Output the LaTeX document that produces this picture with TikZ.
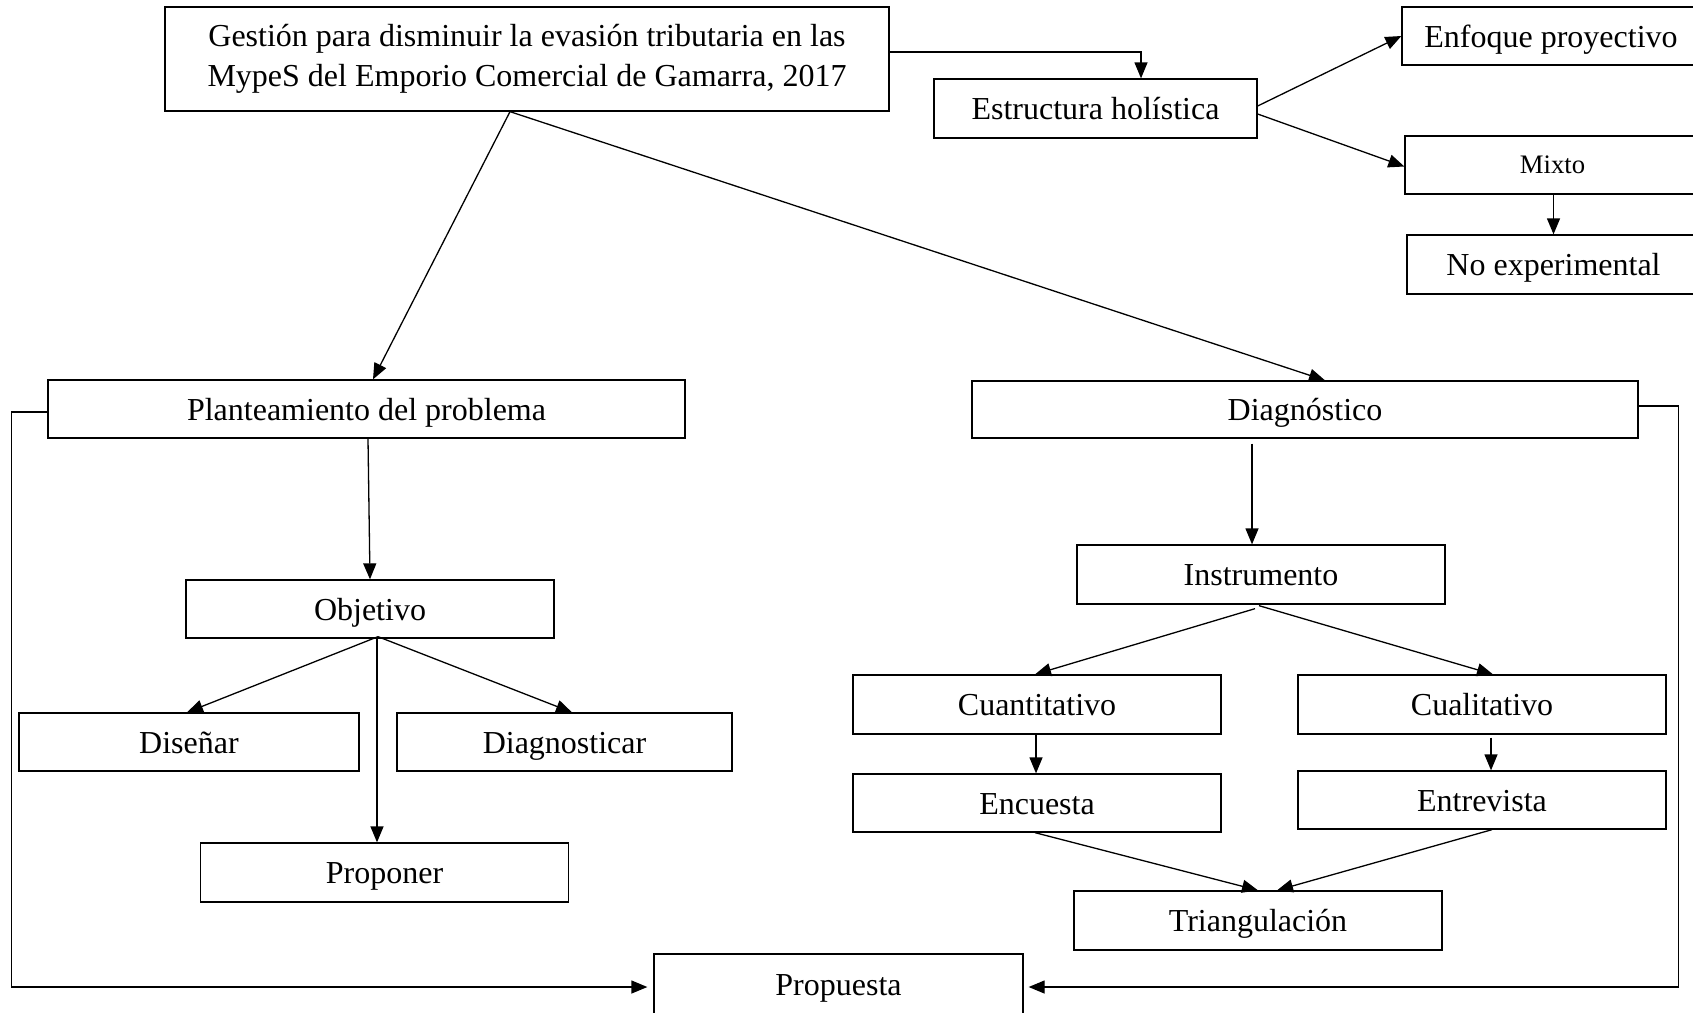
\documentclass[tikz,border=0pt]{standalone}
\usepackage{fontspec}
\setmainfont{Liberation Serif}
\usetikzlibrary{arrows.meta,calc}
\begin{document}
\begin{tikzpicture}[x=1pt,y=-1pt,
  box/.style={draw, line width=1.3pt, inner sep=0pt, align=center,
    font=\fontsize{32}{40}\selectfont, minimum width=368pt, minimum height=58pt},
  sbox/.style={box, text height=25pt, text depth=3pt},
  arr/.style={line width=1.3pt, -{Triangle[length=16pt,width=13pt]}}]
\useasboundingbox (0,0) rectangle (1693,1012);
\clip (0,0) rectangle (1693,1012);

% top
\node[box, minimum width=724pt, minimum height=104pt] (main) at (527,59)
  {Gestión para disminuir la evasión tributaria en las\\MypeS del Emporio Comercial de Gamarra, 2017};
\node[sbox, minimum width=323pt, minimum height=59pt] (estr) at (1095.5,108.5) {Estructura holística};
\node[sbox, minimum width=298pt] (enf) at (1551,36) {Enfoque proyectivo};
\node[box, minimum width=295pt, font=\fontsize{26.7}{32}\selectfont] (mixto) at (1552.5,165) {Mixto};
\node[sbox, minimum width=293pt, minimum height=59pt] (noexp) at (1553.5,264.5) {No experimental};

% left branch
\node[sbox, minimum width=637pt] (plant) at (366.5,409) {Planteamiento del problema};
\node[sbox] (obj) at (370,609) {Objetivo};
\node[sbox, minimum width=340pt] (dis) at (189,742) {Diseñar};
\node[sbox, minimum width=335pt] (diagn) at (564.5,742) {Diagnosticar};
\node[sbox, minimum height=59pt] (prop) at (384.5,872.5) {Proponer};

% right branch
\node[sbox, minimum width=666pt, minimum height=57pt] (diag) at (1305,409.5) {Diagnóstico};
\node[sbox, minimum height=59pt] (instr) at (1261,574.5) {Instrumento};
\node[sbox, minimum height=59pt] (cuant) at (1037,704.5) {Cuantitativo};
\node[sbox, minimum height=59pt] (cual) at (1482,704.5) {Cualitativo};
\node[sbox] (enc) at (1037,803) {Encuesta};
\node[sbox] (entr) at (1482,800) {Entrevista};
\node[sbox, minimum height=59pt] (tri) at (1258,920.5) {Triangulación};

% bottom
\node[sbox, minimum width=369pt, minimum height=60pt] (propu) at (838.5,984) {Propuesta};

% connectors
\draw[arr] ([yshift=7pt]main.east) -| ([xshift=45.5pt]estr.north);
\draw[arr] ([yshift=2.5pt]estr.east) -- (enf.west);
\draw[arr] ([yshift=-5.5pt]estr.east) -- ([yshift=-1.5pt]mixto.west);
\draw[arr] ([xshift=1pt]mixto.south) -- ([xshift=0pt]noexp.north);

\draw[arr] ([xshift=-17pt]main.south) -- ([xshift=6.5pt]plant.north);
\draw[arr] ([xshift=-17pt]main.south) -- ([xshift=20pt]diag.north);

\draw[arr] ([xshift=1.5pt]plant.south) -- (obj.north);
\draw[arr] ([xshift=8pt,yshift=2pt]obj.south) -- ([xshift=-2pt]dis.north);
\draw[arr] ([xshift=8pt,yshift=2pt]obj.south) -- ([xshift=7.5pt]diagn.north);
\draw[arr] ([xshift=7pt]obj.south) -- ([xshift=-7.5pt]prop.north);

\draw[arr, shorten >=6pt] ([yshift=-3pt]plant.west) -- ++(-36,0) |- ([yshift=-3pt]propu.west);
\draw[arr, shorten >=5pt] ([yshift=3.5pt]diag.east) -- ++(40,0) |- ([yshift=-3pt]propu.east);

\draw[arr] ([xshift=-53pt,yshift=-5pt]diag.south) -- ([xshift=-9pt]instr.north);
\draw[arr] ([xshift=-6pt,yshift=-4pt]instr.south) -- ([xshift=-2pt]cuant.north);
\draw[arr] ([xshift=-2pt,yshift=-1pt]instr.south) -- ([xshift=11pt]cual.north);
\draw[arr] ([xshift=-1pt]cuant.south) -- ([xshift=-1pt]enc.north);
\draw[arr] ([xshift=9pt,yshift=-3pt]cual.south) -- ([xshift=9pt]entr.north);
\draw[arr] ([xshift=-2pt]enc.south) -- (tri.north);
\draw[arr] ([xshift=10pt]entr.south) -- ([xshift=19pt]tri.north);
\end{tikzpicture}
\end{document}
